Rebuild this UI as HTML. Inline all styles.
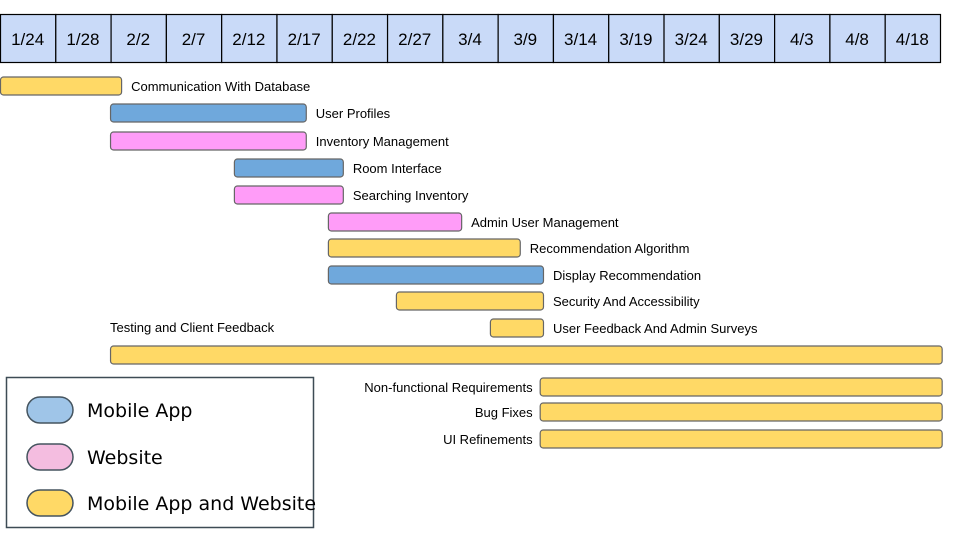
<!DOCTYPE html>
<html><head><meta charset="utf-8"><style>
body{margin:0;background:#fff;font-family:"Liberation Sans",sans-serif;}
svg{display:block}
</style></head><body>
<svg id="c" width="960" height="540" xmlns="http://www.w3.org/2000/svg">
<g id="hdr"></g>
<g id="bars"></g>
<g>
<rect x="6.5" y="377.5" width="307" height="150" fill="#fff" stroke="#3d4b55" stroke-width="1.5"/>
<g><rect x="27" y="397" width="46" height="26" rx="13" fill="#9fc5e8" stroke="#45545f" stroke-width="1.5"/><text x="87" y="417" font-size="19" font-family="DejaVu Sans,sans-serif" fill="#000">Mobile App</text></g>
<g><rect x="27" y="444" width="46" height="26" rx="13" fill="#f4bde0" stroke="#45545f" stroke-width="1.5"/><text x="87" y="464" font-size="19" font-family="DejaVu Sans,sans-serif" fill="#000">Website</text></g>
<g><rect x="27" y="490" width="46" height="26" rx="13" fill="#ffd966" stroke="#45545f" stroke-width="1.5"/><text x="87" y="510" font-size="19" font-family="DejaVu Sans,sans-serif" fill="#000">Mobile App and Website</text></g>
</g>
</svg>
<script>
const dateLabels=["1/24","1/28","2/2","2/7","2/12","2/17","2/22","2/27","3/4","3/9","3/14","3/19","3/24","3/29","4/3","4/8","4/18"];
const taskNames=["Communication With Database","User Profiles","Inventory Management","Room Interface","Searching Inventory","Admin User Management","Recommendation Algorithm","Display Recommendation","Security And Accessibility","User Feedback And Admin Surveys","Testing and Client Feedback","Non-functional Requirements","Bug Fixes","UI Refinements"];
const taskStart=[0,1.99,1.99,4.23,4.23,5.93,5.93,5.93,7.16,8.86,1.99,9.76,9.76,9.76];
const taskEnd=[2.19,5.53,5.53,6.2,6.2,8.34,9.4,9.82,9.82,9.82,17.03,17.03,17.03,17.03];
const taskType=["both","mobile","web","mobile","web","web","both","mobile","both","both","both","both","both","both"];
const taskRowY=[86,113,141,168,195,222,248,275,301,328,355,387,412,439];
const labelPos=["right","right","right","right","right","right","right","right","right","right","above","left","left","left"];
const NS="http://www.w3.org/2000/svg";
const colW=940/17;
function xs(v){return v*colW;}
function mk(t,a,p){const e=document.createElementNS(NS,t);for(const k in a)e.setAttribute(k,a[k]);p.appendChild(e);return e;}
const hdr=document.getElementById('hdr');
dateLabels.forEach((d,i)=>{
  const r=mk('rect',{x:xs(i)+0.5,y:14.5,width:colW,height:48,fill:'#c9daf8',stroke:'#000','stroke-width':1.2},hdr);
  
  
  const t=mk('text',{x:xs(i)+colW/2,y:45,'text-anchor':'middle','font-size':17,fill:'#000'},hdr);
  t.textContent=d;
  
  
});
const colors={both:'#ffd966',mobile:'#6fa8dc',web:'#ff9cf8'};
const bars=document.getElementById('bars');
taskNames.forEach((n,i)=>{
  const x0=xs(taskStart[i]),x1=xs(taskEnd[i]),y=taskRowY[i];
  const r=mk('rect',{x:x0+0.5,y:y-9,width:x1-x0,height:18,rx:3,fill:colors[taskType[i]],stroke:'#666','stroke-width':1.2},bars);
  
  
  let t;
  if(labelPos[i]==='right'){t=mk('text',{x:x1+10,y:y+5,'font-size':13,fill:'#000'},bars);}
  else if(labelPos[i]==='left'){t=mk('text',{x:x0-7,y:y+5,'font-size':13,fill:'#000','text-anchor':'end'},bars);}
  else {t=mk('text',{x:x0,y:y-23,'font-size':13,fill:'#000'},bars);}
  t.textContent=n;
  
  
});
</script>
</body></html>
